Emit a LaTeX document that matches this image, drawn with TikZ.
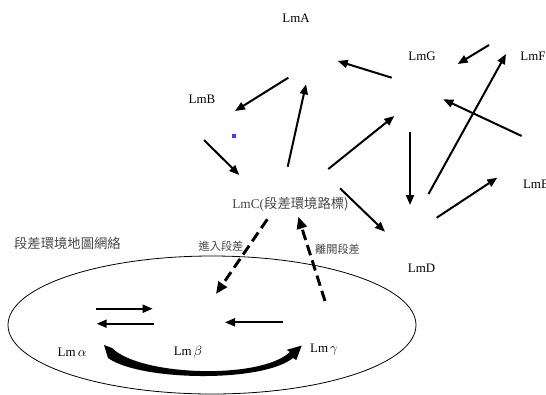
\documentclass[tikz,border=0pt]{standalone}
\usepackage{fontspec}
\setmainfont{Liberation Serif}
\newfontfamily\cjk{Noto Sans CJK TC}
\usetikzlibrary{arrows.meta}
\begin{document}
\begin{tikzpicture}[x=0.75pt,y=-0.75pt,
  lbl/.style={inner sep=0pt,font=\fontsize{9.7}{11}\selectfont},
  glbl/.style={inner sep=0pt,text=black!72,font=\fontsize{10}{12}\selectfont},
  slbl/.style={inner sep=0pt,text=black!72,font=\fontsize{8.4}{10}\selectfont},
  arr/.style={line width=1.5pt,-{Triangle[length=7.5pt,width=6pt]}},
  darr/.style={line width=2.2pt,dash pattern=on 8pt off 4pt,-{Triangle[length=9pt,width=7.5pt]}},
  thin/.style={line width=0.6pt}]
\useasboundingbox (0,0) rectangle (546,394);
% labels
\node[lbl] (A) at (296,18) {LmA};
\node[lbl] (G) at (422,56) {LmG};
\node[lbl] (F) at (533,56) {LmF};
\node[lbl] (B) at (202,99) {LmB};
\node[lbl] (E) at (536,184) {LmE};
\node[glbl] (C) at (290.5,204) {LmC(\cjk 段差環境路標)};
\node[lbl] (D) at (421.5,268) {LmD};
\node[glbl] (net) at (67.5,243) {\cjk 段差環境地圖網絡};
\node[slbl] (enter) at (221,246) {\cjk 進入段差};
\node[slbl] (leave) at (337.5,249) {\cjk 離開段差};
\node[lbl] (al) at (72,352) {Lm\,$\alpha$};
\node[lbl] (be) at (188,352) {Lm\,$\beta$};
\node[lbl] (ga) at (324,350) {Lm\,$\gamma$};
% blue dot
\fill[blue!75!white] (232,134) rectangle (235.5,137.5);
% ellipse
\draw[thin] (212,325) ellipse [x radius=204, y radius=69];
% connector end points
\coordinate (g1) at (391.7,77.7);  \coordinate (a1) at (337.7,61);
\coordinate (f1) at (489,45);      \coordinate (g2) at (457.7,64);
\coordinate (a2) at (288.3,77.7);  \coordinate (b1) at (235,111);
\coordinate (c1) at (287.7,166.7); \coordinate (a3) at (306,84.3);
\coordinate (b2) at (204,140);     \coordinate (c2) at (239.3,175);
\coordinate (c3) at (328.3,169);   \coordinate (g3) at (394.3,116);
\coordinate (e1) at (521.7,136);   \coordinate (g4) at (443.3,99.3);
\coordinate (g5) at (410,131.7);   \coordinate (d1) at (410,205);
\coordinate (d2) at (428.5,194);   \coordinate (f2) at (506,54);
\coordinate (d3) at (436.7,217.7); \coordinate (e2) at (497.3,177.7);
\coordinate (c4) at (340,188.3);   \coordinate (d4) at (385,231.7);
\coordinate (c5) at (267.3,219.3); \coordinate (b3) at (216,294);
\coordinate (y1) at (325,301);     \coordinate (c6) at (298.3,216.7);
\coordinate (al1) at (95.7,308.7); \coordinate (be1) at (152.7,308.7);
\coordinate (be2) at (154,323.7);  \coordinate (al2) at (96.7,323.7);
\coordinate (y2) at (282.7,322.3); \coordinate (be3) at (225,322.3);
% arrows
\draw[arr] (g1) -- (a1);
\draw[arr] (f1) -- (g2);
\draw[arr] (a2) -- (b1);
\draw[arr] (c1) -- (a3);
\draw[arr] (b2) -- (c2);
\draw[arr] (c3) -- (g3);
\draw[arr] (e1) -- (g4);
\draw[arr] (g5) -- (d1);
\draw[arr] (d2) -- (f2);
\draw[arr] (d3) -- (e2);
\draw[arr] (c4) -- (d4);
\draw[darr] (c5) -- (b3);
\draw[darr] (y1) -- (c6);
\draw[arr] (al1) -- (be1);
\draw[arr] (be2) -- (al2);
\draw[arr] (y2) -- (be3);
% thick curved arrow alpha -> gamma
\fill (104,345) -- (112,348) .. controls (140,376) and (260,380) .. (290,352)
  -- (286.7,349.9) -- (301.7,345.5) -- (296.3,360.1) -- (293,358)
  .. controls (262,383) and (140,381) .. (108,358) -- cycle;
\end{tikzpicture}
\end{document}
